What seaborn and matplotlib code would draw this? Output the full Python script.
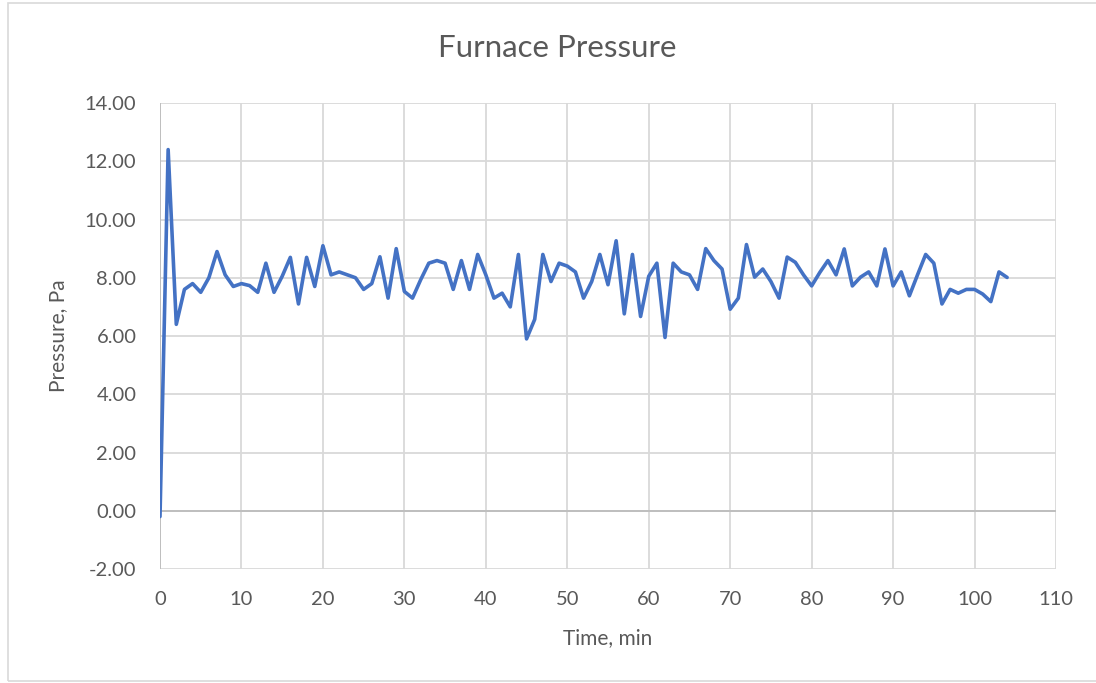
import numpy as np
import pandas as pd
import matplotlib
matplotlib.use("Agg")
import matplotlib.pyplot as plt
from matplotlib.patches import Rectangle
import seaborn as sns

time_min = list(range(0, 105))
pressure_pa = [
    -0.2, 12.4, 6.4, 7.6, 7.8, 7.5, 8.0, 8.9, 8.1, 7.7,
    7.8, 7.73, 7.5, 8.5, 7.5, 8.05, 8.7, 7.1, 8.7, 7.7,
    9.1, 8.1, 8.2, 8.1, 8.0, 7.6, 7.8, 8.72, 7.3, 9.0,
    7.53, 7.3, 7.93, 8.5, 8.59, 8.5, 7.6, 8.59, 7.6, 8.8,
    8.1, 7.3, 7.47, 7.0, 8.8, 5.9, 6.57, 8.8, 7.87, 8.5,
    8.4, 8.2, 7.3, 7.87, 8.8, 7.76, 9.27, 6.76, 8.8, 6.67,
    8.05, 8.5, 5.95, 8.5, 8.2, 8.1, 7.6, 9.0, 8.59, 8.3,
    6.92, 7.3, 9.14, 8.02, 8.3, 7.87, 7.3, 8.71, 8.53, 8.1,
    7.72, 8.18, 8.59, 8.1, 8.99, 7.72, 8.02, 8.2, 7.72, 8.99,
    7.72, 8.2, 7.38, 8.1, 8.8, 8.5, 7.1, 7.6, 7.47, 7.6,
    7.6, 7.44, 7.18, 8.2, 8.01,
]
x_ticks = list(range(0, 111, 10))
y_ticks = [-2, 0, 2, 4, 6, 8, 10, 12, 14]

title = "Furnace Pressure"
x_label = "Time, min"
y_label = "Pressure, Pa"

df = pd.DataFrame({"t": time_min, "p": pressure_pa})

sns.set_theme(style="white")
plt.rcParams["font.family"] = ["Lato", "DejaVu Sans"]

fig = plt.figure(figsize=(10.96, 6.83), dpi=100)
ax = fig.add_axes([160 / 1096, 1 - 569 / 683, (1056 - 160) / 1096, (569 - 103) / 683])

grid_c = "#D9D9D9"
for xt in x_ticks:
    ax.axvline(xt, color=grid_c, lw=1.3, zorder=0)
for yt in y_ticks:
    ax.axhline(yt, color=grid_c, lw=1.3, zorder=0)
ax.axhline(0, color="#BFBFBF", lw=1.4, zorder=1)
ax.axvline(0, color="#BFBFBF", lw=1.4, zorder=1)

sns.lineplot(data=df, x="t", y="p", ax=ax, color="#4472C4", lw=2.6, zorder=3)

ax.set_xlim(0, 110)
ax.set_ylim(-2, 14)
ax.set_xticks(x_ticks)
ax.set_yticks(y_ticks)
ax.set_yticklabels([f"{v:.2f}" for v in y_ticks])
for s in ax.spines.values():
    s.set_visible(False)
ax.tick_params(axis="both", length=0, labelsize=14.5, colors="#595959")
ax.tick_params(axis="x", pad=16)
ax.tick_params(axis="y", pad=17)
ax.set_xlabel(x_label, fontsize=15, color="#595959", labelpad=14)
ax.set_ylabel(y_label, fontsize=15, color="#595959", labelpad=12)
fig.text(557 / 1096, 1 - 48 / 683, title, ha="center", va="center", fontsize=22.5, color="#595959")

fig.patches.append(Rectangle((8 / 1096, 2 / 683), 1.2, 1 - 5 / 683, transform=fig.transFigure,
                             fill=False, edgecolor="#D9D9D9", lw=1.2))

fig.savefig("out.png", dpi=100)
